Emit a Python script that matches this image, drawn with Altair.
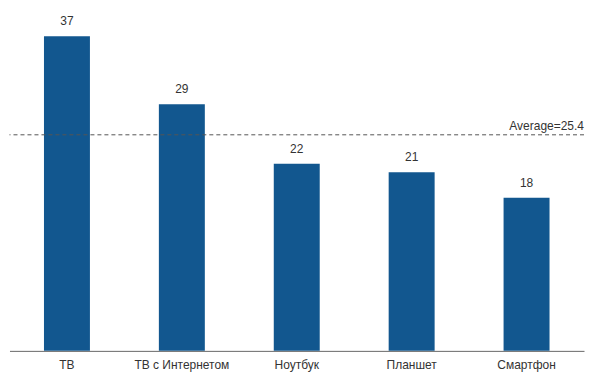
import altair as alt
import pandas as pd

categories = ["ТВ", "ТВ с Интернетом", "Ноутбук", "Планшет", "Смартфон"]
values = [37, 29, 22, 21, 18]
average = [25.4]

df = pd.DataFrame({"cat": categories, "val": values})
avg_df = pd.DataFrame({"avg": average, "label": [f"Average={average[0]}"]})

FONT = "Liberation Sans"
x = alt.X("cat:N", sort=categories, title=None,
          scale=alt.Scale(paddingInner=0.6, paddingOuter=0.3),
          axis=alt.Axis(labelAngle=0, ticks=False, labelPadding=9, labelFontSize=12,
                        labelColor="#333333", labelFont=FONT, domainColor="#666666",
                        domainWidth=1, grid=False))
y = alt.Y("val:Q", title=None, scale=alt.Scale(domain=[0, 37], nice=False, zero=True),
          axis=None)

bars = alt.Chart(df).mark_bar(color="#12578f").encode(x=x, y=y)
labels = alt.Chart(df).mark_text(dy=-15, fontSize=12, font=FONT, color="#333333").encode(
    x=alt.X("cat:N", sort=categories), y="val:Q", text="val:Q")
rule = alt.Chart(avg_df).mark_rule(color="#555555", strokeDash=[4, 3], strokeWidth=1).encode(
    y="avg:Q")
rule_text = alt.Chart(avg_df).mark_text(align="right", dy=-9, fontSize=12, font=FONT,
                                        color="#333333").encode(
    x=alt.value(575), y="avg:Q", text="label:N")

chart = alt.layer(bars, labels, rule, rule_text).properties(
    width=575, height=315,
    autosize=alt.AutoSizeParams(type="none"),
    padding={"left": 1.5, "top": 28, "right": 2, "bottom": 30},
).configure_view(stroke=None)

chart.save("out.html", embed_options={"renderer": "svg", "actions": False})
